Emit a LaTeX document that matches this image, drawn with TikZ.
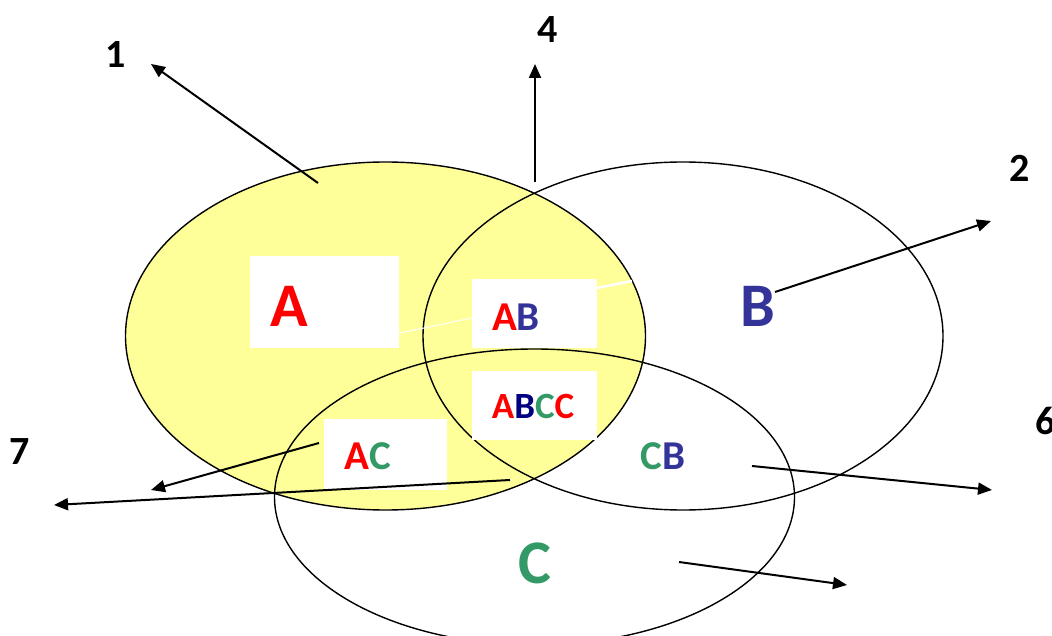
\documentclass[tikz,border=0pt]{standalone}
\usepackage{fontspec}
\setmainfont{Carlito}
\usepackage{tikz}
\usetikzlibrary{arrows.meta,%
                shapes,positioning}
\definecolor{setyellow}{HTML}{FFFF99}
\definecolor{setred}{HTML}{FF0000}
\definecolor{setblue}{HTML}{333399}
\definecolor{setnavy}{HTML}{000080}
\definecolor{setgreen}{HTML}{339966}

\begin{document}
\begin{tikzpicture}[x=1pt, y=-1pt]
  \tikzset{SetStyle/.style = {shape          = ellipse,
                              draw, black,
                              line width     = 1.4pt,
                              inner sep      = 0pt,
                              minimum width  = 520pt},
           BoxStyle/.style = {shape = rectangle, fill = white, inner sep = 0pt},
           NumStyle/.style = {font = \fontsize{40}{40}\selectfont\bfseries, inner sep = 0pt},
           ArrowStyle/.style = {line width = 2pt, -{Triangle[length=14pt, width=12pt]}}}
  \useasboundingbox (0,0) rectangle (1052,636);
  \begin{scope}[bigletter/.style={font=\fontsize{62}{62}\selectfont\bfseries, inner sep=0pt},
                pair/.style={font=\fontsize{41}{41}\selectfont\bfseries, inner sep=0pt}]
	%%% ENSEMBLES %%%
	\node[SetStyle, fill=setyellow, minimum height=348pt](setA) at (385.5,336){};
	\node[SetStyle, minimum height=348pt](setB) at (683,336){};
	\node[SetStyle, minimum height=296pt](setC) at (534.5,497){};
	%%% CADRES BLANCS %%%
	\node[BoxStyle, minimum width=149pt, minimum height=92pt](boxA) at (324.5,302){};
	\node[BoxStyle, minimum width=125pt, minimum height=69pt](boxAB) at (534.5,313.5){};
	\node[BoxStyle, minimum width=125pt, minimum height=69pt](boxABC) at (534.5,405.5){};
	\node[BoxStyle, minimum width=123pt, minimum height=71pt](boxAC) at (385.5,454){};
	\coordinate (wEnd) at (632,281);
	\draw[white, line width=1pt] ([yshift=15pt]boxA.south east) -- ([yshift=-4.5pt]boxAB.west);
	\draw[white, line width=2.5pt] ([yshift=25.5pt]boxAB.east) -- (wEnd);
	%%% LETTRES %%%
	\node[bigletter, text=setred](labA) at (289,306){A};
	\node[bigletter, text=setblue](labB) at (758,306){B};
	\node[bigletter, text=setgreen](labC) at (535,563){C};
	\node[pair](labAB) at (516,317){\color{setred}A\color{setblue}B};
	\node[pair, font=\fontsize{37}{37}\selectfont\bfseries](labABC) at (533,406){\color{setred}A\color{setnavy}B\color{setgreen}C\color{setred}C};
	\node[pair](labAC) at (368,456){\color{setred}A\color{setgreen}C};
	\node[pair](labCB) at (663,456){\color{setgreen}C\color{setblue}B};
	%%% NUMEROS %%%
	\node[NumStyle](n1) at (116,55){1};
	\node[NumStyle](n4) at (548,30){4};
	\node[NumStyle](n2) at (1020,168){2};
	\node[NumStyle, anchor=west](n6) at (1035,421){6};
	\node[NumStyle](n7) at (20,452){7};
	%%% FLECHES %%%
	\coordinate (t1) at (318,183); \coordinate (h1) at (151,64);
	\coordinate (t4) at (535,182); \coordinate (h4) at (535,64);
	\coordinate (t2) at (775,292); \coordinate (h2) at (991,221);
	\coordinate (t6) at (752,466); \coordinate (h6) at (992,490);
	\coordinate (tC) at (679,562); \coordinate (hC) at (847,585);
	\coordinate (t7a) at (319,443); \coordinate (h7a) at (151,490);
	\coordinate (t7b) at (510,480); \coordinate (h7b) at (54,505);
	\foreach \a/\b in {t1/h1, t4/h4, t2/h2, t6/h6, tC/hC, t7a/h7a, t7b/h7b}
	  \draw[ArrowStyle] (\a) -- (\b);
  \end{scope}
\end{tikzpicture}
\end{document}
